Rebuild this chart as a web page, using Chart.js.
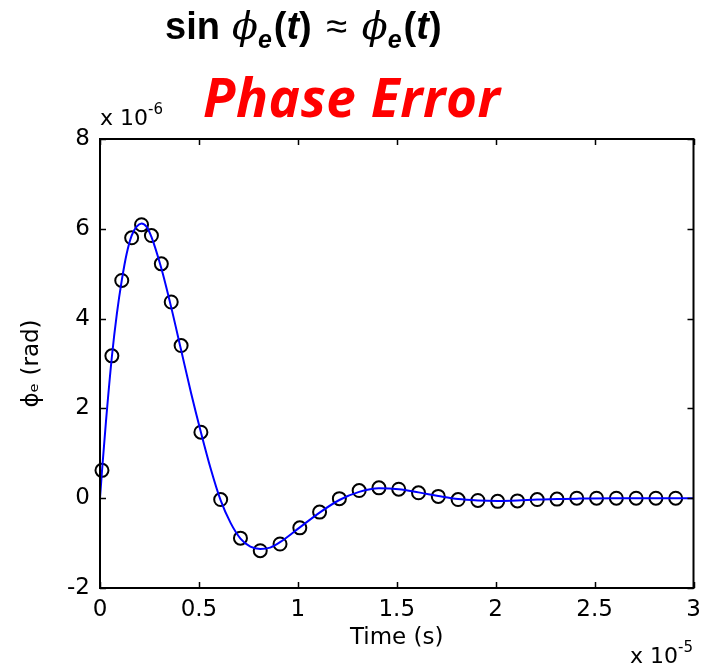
<!DOCTYPE html>
<html>
<head>
<meta charset="utf-8">
<script src="https://cdn.jsdelivr.net/npm/chart.js@4/dist/chart.umd.min.js"></script>
<style>
  html, body { margin: 0; padding: 0; background: #fff; }
  .wrap { position: relative; width: 702px; height: 666px; overflow: hidden; }
  canvas { position: absolute; left: 0; top: 0; }
  .lbl { position: absolute; white-space: nowrap; color: #000; }
  .eq { left: 165px; top: 7px; font: bold 38px "Liberation Sans", Arial, sans-serif; line-height: 38px; }
  .eq .phi { font-family: "DejaVu Serif", serif; font-style: italic; font-weight: normal; }
  .eq .sub { font-style: italic; font-size: 25px; position: relative; top: 9px; margin-right: 2px; }
  .eq .ap { font-weight: normal; margin: 0 4px; }
  .title { left: 203px; top: 71px; font: italic bold 53px "Open Sans", sans-serif; line-height: 52px; color: #ff0000; letter-spacing: 0.6px; }
  .exp { font: 22px "DejaVu Sans", sans-serif; line-height: 22px; }
  .exp .sup { font-size: 15px; position: relative; top: -11px; }
</style>
</head>
<body>
<div class="wrap">
  <canvas id="c" width="702" height="666"></canvas>
  <div class="lbl eq">sin<span class="phi"> ϕ</span><span class="sub">e</span>(<i>t</i>) <span class="ap">≈</span> <span class="phi">ϕ</span><span class="sub">e</span>(<i>t</i>)</div>
  <div class="lbl title">Phase Error</div>
  <div class="lbl exp" style="left:100px; top:107px;">x 10<span class="sup">-6</span></div>
  <div class="lbl exp" style="left:630px; top:645px;">x 10<span class="sup">-5</span></div>
</div>
<script>
// time in units of 1e-5 s, phase error in units of 1e-6 rad
const sampleTime = [0.01, 0.06, 0.11, 0.16, 0.21, 0.26, 0.31, 0.36, 0.41, 0.51, 0.61, 0.71, 0.81, 0.91,
  1.01, 1.11, 1.21, 1.31, 1.41, 1.51, 1.61, 1.71, 1.81, 1.91, 2.01, 2.11, 2.21, 2.31, 2.41, 2.51,
  2.61, 2.71, 2.81, 2.91];
const sampleValue = [0.62, 3.17, 4.85, 5.80, 6.09, 5.85, 5.22, 4.37, 3.40, 1.47, -0.03, -0.89, -1.17, -1.02,
  -0.66, -0.31, -0.01, 0.17, 0.23, 0.20, 0.12, 0.04, -0.03, -0.05, -0.07, -0.06, -0.03, -0.02, 0.0, 0.0,
  0.0, 0.0, 0.0, 0.0];

const curveTime = [0, 0.01, 0.03, 0.06, 0.085, 0.11, 0.135, 0.16, 0.185, 0.21, 0.235, 0.26, 0.31, 0.36,
  0.41, 0.46, 0.51, 0.56, 0.61, 0.66, 0.71, 0.76, 0.81, 0.86, 0.91, 1.01, 1.11, 1.21, 1.31, 1.41,
  1.51, 1.61, 1.71, 1.81, 1.91, 2.01, 2.11, 2.21, 2.31, 2.41, 2.6, 2.8, 3.0];
const curveValue = [0, 0.6, 1.7, 3.15, 4.1, 4.85, 5.45, 5.85, 6.05, 6.12, 6.05, 5.82, 5.12, 4.25,
  3.3, 2.35, 1.47, 0.65, -0.05, -0.55, -0.9, -1.08, -1.13, -1.1, -0.98, -0.65, -0.32, -0.04, 0.14, 0.22,
  0.2, 0.13, 0.05, -0.02, -0.05, -0.06, -0.05, -0.03, -0.02, -0.01, 0, 0, 0];

const xRange = [0, 3];
const yRange = [-2, 8];

const zip = (xs, ys) => xs.map((x, i) => ({ x: x, y: ys[i] }));
const tickFont = { family: 'DejaVu Sans', size: 23 };

// MATLAB style box with inward ticks on all four sides
const boxPlugin = {
  id: 'box',
  afterDatasetsDraw(chart) {
    const { ctx, chartArea: a, scales: { x, y } } = chart;
    ctx.save();
    ctx.strokeStyle = '#000';
    ctx.lineWidth = 2;
    ctx.strokeRect(a.left, a.top, a.right - a.left, a.bottom - a.top);
    ctx.lineWidth = 1.5;
    ctx.beginPath();
    x.ticks.forEach(t => {
      const px = Math.round(x.getPixelForValue(t.value)) + 0.5;
      ctx.moveTo(px, a.bottom); ctx.lineTo(px, a.bottom - 6);
      ctx.moveTo(px, a.top); ctx.lineTo(px, a.top + 6);
    });
    y.ticks.forEach(t => {
      const py = Math.round(y.getPixelForValue(t.value)) + 0.5;
      ctx.moveTo(a.left, py); ctx.lineTo(a.left + 6, py);
      ctx.moveTo(a.right, py); ctx.lineTo(a.right - 6, py);
    });
    ctx.stroke();
    ctx.restore();
  }
};

new Chart(document.getElementById('c').getContext('2d'), {
  type: 'scatter',
  data: {
    datasets: [{
      label: 'curve',
      data: zip(curveTime, curveValue),
      showLine: true,
      borderColor: '#0000ff',
      borderWidth: 2,
      pointRadius: 0,
      cubicInterpolationMode: 'monotone'
    }, {
      label: 'samples',
      data: zip(sampleTime, sampleValue),
      showLine: false,
      pointStyle: 'circle',
      pointRadius: 6.5,
      borderWidth: 2,
      borderColor: '#000',
      backgroundColor: 'rgba(0,0,0,0)',
      clip: false
    }]
  },
  options: {
    responsive: false,
    animation: false,
    devicePixelRatio: 1,
    layout: { padding: { left: 0, top: 139, right: 7, bottom: 0 } },
    plugins: { legend: { display: false }, tooltip: { enabled: false } },
    scales: {
      x: {
        type: 'linear', min: xRange[0], max: xRange[1],
        grid: { display: false, drawTicks: false },
        border: { display: false },
        ticks: { stepSize: 0.5, padding: 8, color: '#000', font: tickFont, maxRotation: 0,
          callback: v => String(v) },
        title: { display: true, text: 'Time (s)', color: '#000', font: tickFont,
          padding: { top: 0, bottom: 14 } },
        afterFit: s => { s.height = 78; s.paddingLeft = 0; s.paddingRight = 0; }
      },
      y: {
        type: 'linear', min: yRange[0], max: yRange[1],
        grid: { display: false, drawTicks: false },
        border: { display: false },
        ticks: { stepSize: 2, padding: 10, color: '#000', font: tickFont,
          callback: v => String(v) },
        title: { display: true, text: 'ϕₑ (rad)', color: '#000', font: tickFont,
          padding: { top: 18, bottom: 0 } },
        afterFit: s => { s.width = 100; s.paddingTop = 0; s.paddingBottom = 0; }
      }
    }
  },
  plugins: [boxPlugin]
});
</script>
</body>
</html>
